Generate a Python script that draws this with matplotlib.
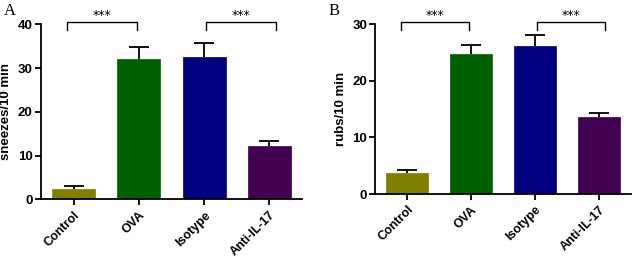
import matplotlib
matplotlib.use("Agg")
import matplotlib.pyplot as plt

groups = ["Control", "OVA", "Isotype", "Anti-IL-17"]
colors = ["#7f7f00", "#005f00", "#000080", "#420050"]

sneezes = [2.3, 32.0, 32.6, 12.2]
sneezes_err = [0.7, 2.9, 3.1, 1.1]

rubs = [3.7, 24.7, 26.1, 13.6]
rubs_err = [0.6, 1.6, 2.0, 0.8]

plt.rcParams['font.family'] = ['Liberation Sans', 'DejaVu Sans']
plt.rcParams['font.weight'] = 'bold'


def bar_panel(ax, values, errors, ylabel, ymax, step):
    x = range(len(groups))
    ax.bar(x, values, width=0.66, color=colors, edgecolor=colors, linewidth=0.5, zorder=2)
    # one-sided error bars: hide the lower cap
    eb = ax.errorbar(x, values, yerr=[[0] * len(errors), errors], fmt='none',
                     ecolor='black', elinewidth=1.3, capsize=7, capthick=1.3, zorder=3)
    eb[1][0].set_visible(False)
    ax.set_xlim(-0.5, 3.5)
    ax.set_ylim(0, ymax)
    ax.set_yticks(range(0, ymax + 1, step))
    ax.set_xticks(list(x))
    ax.set_xticklabels(groups, rotation=45, ha='right', rotation_mode='anchor')
    ax.set_ylabel(ylabel, fontsize=9.5, fontweight='bold', labelpad=4)
    ax.tick_params(axis='both', labelsize=9.5, width=1.3, length=4, pad=2)
    ax.tick_params(axis='x', labelsize=9, pad=3)
    for s in ['top', 'right']:
        ax.spines[s].set_visible(False)
    for s in ['left', 'bottom']:
        ax.spines[s].set_linewidth(1.3)

    # significance brackets
    top = ymax * 1.012
    low = ymax * 0.968
    for x0, x1 in [(-0.1, 0.97), (2.03, 3.1)]:
        ax.plot([x0, x0, x1, x1], [low, top, top, low], color='black', lw=1.0,
                clip_on=False, zorder=4)
        ax.text((x0 + x1) / 2, top, '***', ha='center', va='bottom', fontsize=9,
                fontweight='normal', fontfamily='DejaVu Sans')


fig = plt.figure(figsize=(6.32, 2.57), dpi=100)
ax1 = fig.add_axes([0.065, 0.224, 0.413, 0.681])
ax2 = fig.add_axes([0.594, 0.245, 0.404, 0.660])

bar_panel(ax1, sneezes, sneezes_err, 'sneezes/10 min', 40, 10)
bar_panel(ax2, rubs, rubs_err, 'rubs/10 min', 30, 10)

fig.text(0.006, 0.99, 'A', fontsize=12, fontfamily='Liberation Serif', fontweight='normal',
         va='top', ha='left')
fig.text(0.52, 0.99, 'B', fontsize=12, fontfamily='Liberation Serif', fontweight='normal',
         va='top', ha='left')

fig.savefig('out.png', dpi=100)
